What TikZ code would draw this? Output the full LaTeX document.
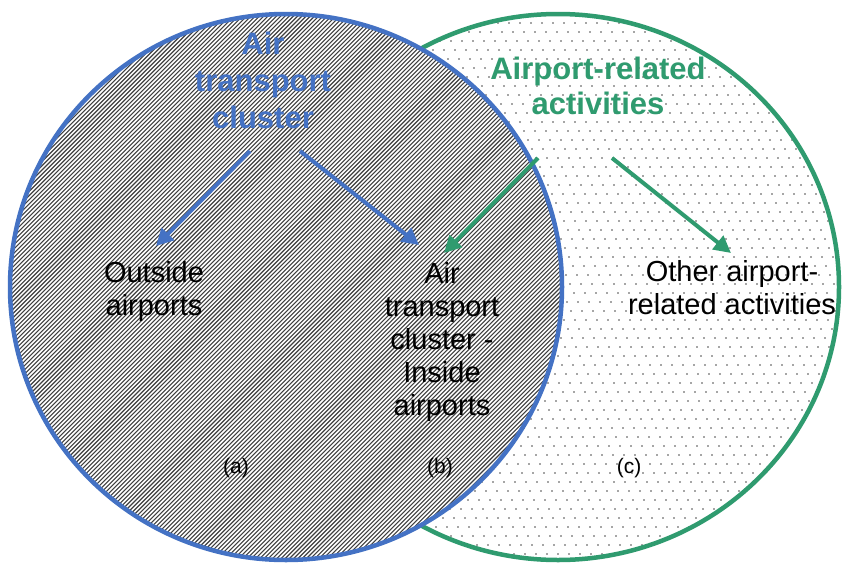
\documentclass[tikz,border=0pt]{standalone}
\usepackage{fontspec}
\setmainfont{Liberation Sans}
\usetikzlibrary{arrows.meta}
\definecolor{cblue}{RGB}{68,114,196}
\definecolor{cgreen}{RGB}{47,155,111}
\tikzset{
  bluetitle/.style={text=cblue, font=\fontsize{31}{37}\selectfont\bfseries, align=center, inner sep=0pt},
  greentitle/.style={text=cgreen, font=\fontsize{31}{35}\selectfont\bfseries, align=center, inner sep=0pt},
  bodytext/.style={text=black, font=\fontsize{29}{33}\selectfont, align=center, inner sep=0pt},
  smalllabel/.style={text=black, font=\fontsize{21}{25}\selectfont, inner sep=0pt},
  bluearrow/.style={draw=cblue, line width=4pt, -{Triangle[length=17pt,width=17pt]}},
  greenarrow/.style={draw=cgreen, line width=4pt, -{Triangle[length=17pt,width=17pt]}},
  hatchline/.style={draw=black!75, line width=1.1pt},
  dotrow/.style={draw=black!70, line width=1.9pt, line cap=round, dash pattern=on 0pt off 11pt},
  setline/.style={line width=4.5pt},
}
\begin{document}
\begin{tikzpicture}[x=1pt,y=-1pt]
\useasboundingbox (0,0) rectangle (843,562);
\fill[white] (0,0) rectangle (843,562);
% green set (airport-related activities): dotted fill
\begin{scope}
  \clip (558,287) ellipse [x radius=281pt, y radius=273pt];
  \foreach \r [count=\i] in {14,23,...,566} {
    \pgfmathsetmacro{\ph}{mod(\i*7,11)}
    \draw[dotrow, dash phase=\ph pt] (270,\r) -- (845,\r);
  }
\end{scope}
\draw[cgreen, setline] (558,287) ellipse [x radius=281pt, y radius=273pt];
% blue set (air transport cluster): hatched fill
\fill[white] (286,287) ellipse [x radius=276pt, y radius=273pt];
\begin{scope}
  \clip (286,287) ellipse [x radius=276pt, y radius=273pt];
  \foreach \c in {0,4.24,...,1140} {
    \draw[hatchline] (\c,0) -- (\c-600,600);
  }
\end{scope}
\draw[cblue, setline] (286,287) ellipse [x radius=276pt, y radius=273pt];
% titles
\node[bluetitle] (atc) at (263,80) {Air\\transport\\cluster};
\node[greentitle] (ara) at (598,86) {Airport-related\\activities};
% texts
\node[bodytext] (out) at (154,291) {Outside\\airports};
\node[bodytext] (ins) at (442,342) {Air\\transport\\cluster -\\Inside\\airports};
\node[bodytext] (oth) at (732,288) {Other airport-\\related activities};
\node[smalllabel] (la) at (236,468) {(a)};
\node[smalllabel] (lb) at (440,468) {(b)};
\node[smalllabel] (lc) at (629,468) {(c)};
% arrow end points
\coordinate (b1s) at (250,151);
\coordinate (b1e) at (156,246);
\coordinate (b2s) at (300,151);
\coordinate (b2e) at (419,245);
\coordinate (g1s) at (538,158);
\coordinate (g1e) at (444,253);
\coordinate (g2s) at (612,158);
\coordinate (g2e) at (731,253);
\draw[bluearrow] (b1s) -- (b1e);
\draw[bluearrow] (b2s) -- (b2e);
\draw[greenarrow] (g1s) -- (g1e);
\draw[greenarrow] (g2s) -- (g2e);
\end{tikzpicture}
\end{document}
